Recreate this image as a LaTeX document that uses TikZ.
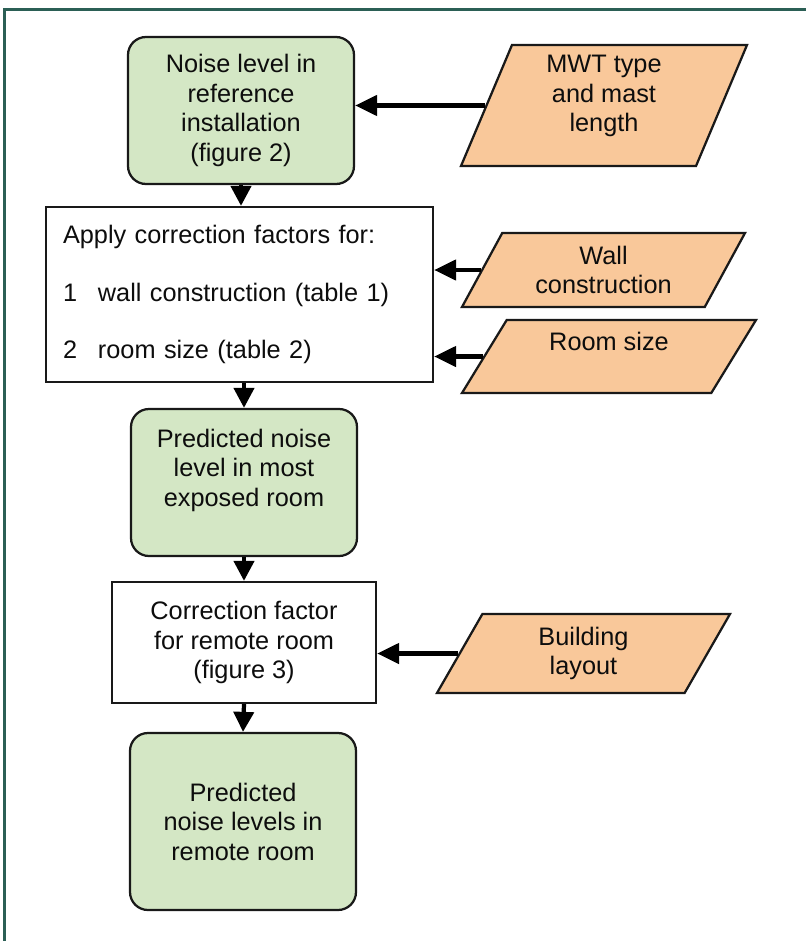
\documentclass[tikz,border=0pt]{standalone}
\usepackage{fontspec}
\setmainfont{Liberation Sans}
\usepackage{xcolor}
\usepackage{tikz}
\usetikzlibrary{shapes,arrows,positioning,calc,arrows.meta}
\definecolor{boxgreen}{HTML}{D4E7C5}
\definecolor{inorange}{HTML}{F9C89A}
\definecolor{frameteal}{HTML}{2B5F55}

\begin{document}
\begin{tikzpicture}[
    font=\fontsize{18}{21}\selectfont, text=black!95,
    result/.style={draw=black!90, line width=1.6pt, fill=boxgreen, rounded corners=0.45cm, minimum width=5.65cm, align=center},
    stage/.style={draw=black!90, line width=1.6pt, fill=white, align=center},
    input/.style={trapezium, trapezium stretches body, draw=black!90, line width=1.6pt, fill=inorange, align=center},
    flow/.style={line width=3pt, -{Triangle[length=0.5cm,width=0.5cm]}},
    feed/.style={line width=3.2pt, -{Triangle[length=0.55cm,width=0.5cm]}}
]
    \useasboundingbox (0,0) rectangle (20.15,-23.525);
    \draw[frameteal, line width=1.5pt] (0.1125,-23.7) -- (0.1125,-0.2375) -- (20.3,-0.2375);

    % main column
    \node[result, minimum height=3.675cm] (ref) at (6.025,-2.7625) {Noise level in\\reference\\installation\\(figure 2)};
    \node[stage, align=left, text width=8.825cm, inner xsep=0.425cm, minimum height=4.375cm] (apply) at (5.9875,-7.3625)
        {Apply correction factors for:\\[0.7cm]\makebox[0.875cm][l]{1}wall construction (table 1)\\[0.7cm]\makebox[0.875cm][l]{2}room size (table 2)};
    \node[result, minimum height=3.675cm] (pred) at (6.1,-12.0625) {Predicted noise\\level in most\\exposed room\\\mbox{}};
    \node[stage, minimum width=6.6cm, minimum height=3.025cm] (remote) at (6.1,-16.0625) {Correction factor\\for remote room\\(figure 3)};
    \node[result, minimum height=4.425cm] (final) at (6.075,-20.5375) {Predicted\\noise levels in\\remote room};

    % inputs
    \node[input, trapezium left angle=65, trapezium right angle=115, minimum width=7.15cm, minimum height=3.025cm] (mwt) at (15.1,-2.6375) {MWT type\\and mast\\length\\[-0.15cm]\mbox{}};
    \node[input, trapezium left angle=55, trapezium right angle=125, minimum width=7.075cm, minimum height=1.85cm] (wall) at (15.0875,-6.75) {Wall\\construction};
    \node[input, trapezium left angle=52, trapezium right angle=128, minimum width=7.35cm, minimum height=1.825cm] (room) at (15.225,-8.9125) {Room size\\\mbox{}};
    \node[input, trapezium left angle=54, trapezium right angle=126, minimum width=7.325cm, minimum height=1.975cm] (layout) at (14.5875,-16.3375) {Building\\layout};

    \draw[flow] (ref.south) -- (ref.south |- apply.north);
    \draw[flow] (pred.north |- apply.south) -- (pred.north);
    \draw[flow] (pred.south) -- (remote.north);
    \draw[flow] (remote.south) -- (final.north);

    \draw[feed] (mwt.west) -- (mwt.west -| ref.east);
    \draw[feed] (wall.west) -- (wall.west -| apply.east);
    \draw[feed] (room.west) -- (room.west -| apply.east);
    \draw[feed] (layout.west) -- (layout.west -| remote.east);
\end{tikzpicture}
\end{document}
